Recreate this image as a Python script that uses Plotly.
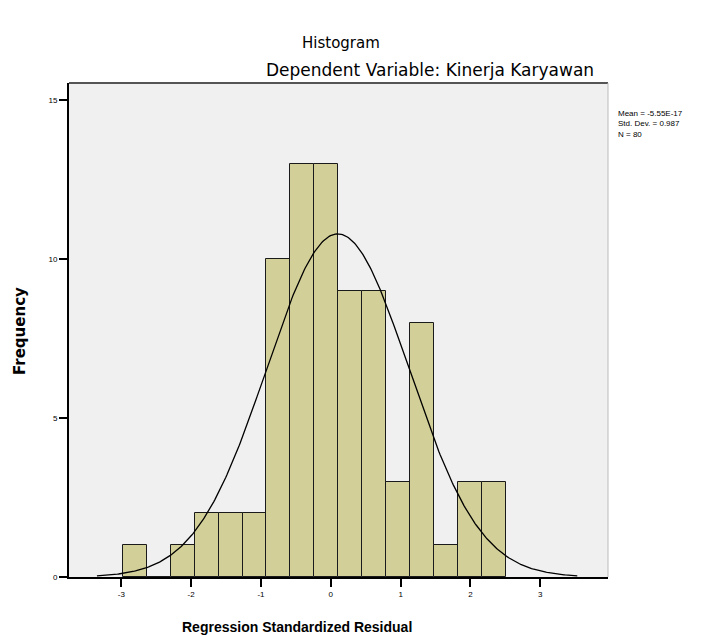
import numpy as np
import plotly.graph_objects as go

# ---- data ----
counts = [1, 0, 1, 2, 2, 2, 10, 13, 13, 9, 9, 3, 8, 1, 3, 3]
bin_start = -2.98
bin_width = 0.343
x_ticks = [-3, -2, -1, 0, 1, 2, 3]
y_ticks = [0, 5, 10, 15]
curve_mean = 0.1
curve_sd = 1.02
curve_peak = 10.8
curve_from, curve_to = -3.35, 3.53
stats_lines = ["Mean = -5.55E-17", "Std. Dev. = 0.987", "N = 80"]

centers = [bin_start + bin_width * (i + 0.5) for i in range(len(counts))]
cx = np.linspace(curve_from, curve_to, 400)
cy = curve_peak * np.exp(-0.5 * ((cx - curve_mean) / curve_sd) ** 2)

FONT = "Liberation Sans, Arial, sans-serif"
DJ = "DejaVu Sans, sans-serif"

# page body adds an 8px margin; compensate so the plot lands where the reference has it
OFF = 8
REF_W, REF_H = 728, 637
L_ref, R_ref, T_ref, B_ref = 69, 608, 83, 577   # plot-area edges in reference pixels
W, H = REF_W - OFF, REF_H - OFF
L, T = L_ref - OFF, T_ref - OFF
R = W - (R_ref - OFF)
B = H - (B_ref - OFF)
pw, ph = R_ref - L_ref, B_ref - T_ref


def px(xp):
    return (xp - L_ref) / pw


def py(yp):
    return (B_ref - yp) / ph


fig = go.Figure()
fig.add_trace(go.Bar(
    x=centers, y=counts, width=bin_width,
    marker=dict(color="#D3CF98", line=dict(color="#1a1a1a", width=1)),
    hoverinfo="x+y", showlegend=False,
))
fig.add_trace(go.Scatter(
    x=cx, y=cy, mode="lines",
    line=dict(color="black", width=1.3),
    showlegend=False, hoverinfo="skip",
))

fig.update_layout(
    width=W, height=H,
    margin=dict(l=L, r=R, t=T, b=B),
    paper_bgcolor="white", plot_bgcolor="#F0F0F0",
    bargap=0,
    font=dict(family=FONT, color="black"),
    xaxis=dict(
        range=[-3.75, 3.97], tickvals=x_ticks, ticktext=[str(v) for v in x_ticks],
        showgrid=False, zeroline=False, showline=True, linecolor="black", linewidth=2,
        ticks="outside", ticklen=8, tickwidth=1.5, tickcolor="black",
        tickfont=dict(size=8, family=FONT),
    ),
    yaxis=dict(
        range=[0, 15.55], tickvals=y_ticks, ticktext=[str(v) for v in y_ticks],
        showgrid=False, zeroline=False, showline=True, linecolor="black", linewidth=2,
        ticks="outside", ticklen=8, tickwidth=1.5, tickcolor="black",
        tickfont=dict(size=8, family=FONT),
    ),
    shapes=[
        dict(type="line", xref="paper", yref="paper", x0=0, x1=1, y0=1, y1=1,
             line=dict(color="#555555", width=2)),
        dict(type="line", xref="paper", yref="paper", x0=1, x1=1, y0=0, y1=1,
             line=dict(color="#BBBBBB", width=1)),
    ],
    annotations=[
        dict(text="Histogram", xref="paper", yref="paper", x=px(341), y=py(43),
             xanchor="center", yanchor="middle", showarrow=False,
             font=dict(size=15, family=DJ)),
        dict(text="Dependent Variable: Kinerja Karyawan", xref="paper", yref="paper",
             x=px(596), y=py(70), xanchor="right", yanchor="middle", showarrow=False,
             font=dict(size=17, family=DJ)),
        dict(text="<b>Regression Standardized Residual</b>", xref="paper", yref="paper",
             x=px(297), y=py(627), xanchor="center", yanchor="middle", showarrow=False,
             font=dict(size=14, family=FONT)),
        dict(text="<b>Frequency</b>", xref="paper", yref="paper",
             x=px(20), y=py(331), xanchor="center", yanchor="middle", showarrow=False,
             textangle=-90, font=dict(size=15, family=DJ)),
        dict(text="<br>".join(stats_lines), xref="paper", yref="paper",
             x=px(616), y=py(107), xanchor="left", yanchor="top", align="left",
             showarrow=False, font=dict(size=8, family=FONT)),
    ],
)

fig.write_html("out.html")
